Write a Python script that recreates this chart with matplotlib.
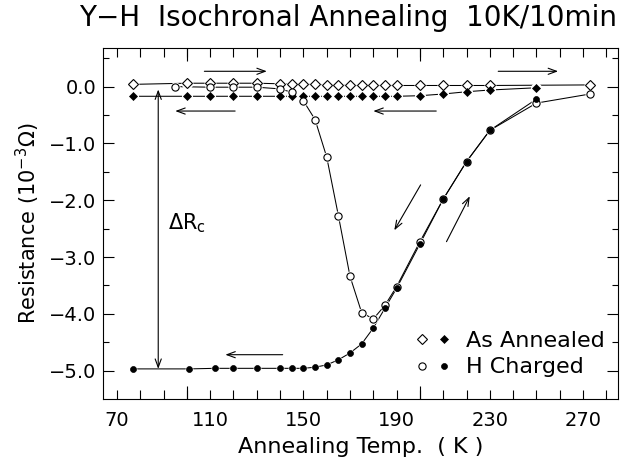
import matplotlib
matplotlib.use("Agg")
import matplotlib.pyplot as plt
from matplotlib.lines import Line2D
from matplotlib.legend_handler import HandlerTuple

plt.rcParams['font.family'] = ['DejaVu Sans']

# ---------------- data ----------------
# As annealed, open diamonds
T_aa_open = [77, 100, 110, 120, 130, 140, 145, 150, 155, 160, 165, 170, 175, 180, 185, 190, 200, 210, 220, 230, 273]
R_aa_open = [0.04, 0.06, 0.06, 0.06, 0.06, 0.05, 0.05, 0.04, 0.04, 0.03, 0.03, 0.02, 0.02, 0.02, 0.02, 0.02, 0.02, 0.02, 0.02, 0.02, 0.03]
# As annealed, filled diamonds
T_aa_fill = [77, 100, 110, 120, 130, 140, 145, 150, 155, 160, 165, 170, 175, 180, 185, 190, 200, 210, 220, 230, 250]
R_aa_fill = [-0.17, -0.17, -0.17, -0.17, -0.17, -0.17, -0.17, -0.17, -0.17, -0.17, -0.17, -0.17, -0.17, -0.17, -0.17, -0.17, -0.16, -0.13, -0.09, -0.06, -0.02]
# H charged, open circles
T_hc_open = [95, 110, 120, 130, 140, 145, 150, 155, 160, 165, 170, 175, 180, 185, 190, 200, 210, 220, 230, 250, 273]
R_hc_open = [0.0, -0.01, -0.01, -0.01, -0.04, -0.10, -0.25, -0.58, -1.24, -2.27, -3.34, -3.98, -4.09, -3.85, -3.52, -2.73, -1.98, -1.32, -0.77, -0.29, -0.13]
# H charged, filled circles
T_hc_fill = [77, 101, 112, 120, 130, 140, 145, 150, 155, 160, 165, 170, 175, 180, 185, 190, 200, 210, 220, 230, 250]
R_hc_fill = [-4.97, -4.97, -4.96, -4.96, -4.96, -4.96, -4.96, -4.96, -4.94, -4.90, -4.81, -4.69, -4.53, -4.25, -3.90, -3.55, -2.77, -1.98, -1.32, -0.77, -0.22]

x_label_ticks = [70, 110, 150, 190, 230, 270]
x_minor_ticks = list(range(70, 290, 10))
x_major_ticks = [100, 200]
y_major_ticks = [0.0, -1.0, -2.0, -3.0, -4.0, -5.0]
y_tick_labels = ['0.0', '\u22121.0', '\u22122.0', '\u22123.0', '\u22124.0', '\u22125.0']
y_minor_ticks = [0.5, -0.5, -1.5, -2.5, -3.5, -4.5]

# arrows: (start T, start R, end T, end R)
arrows = [
    (107.5, 0.27, 134.3, 0.27),
    (120.7, -0.43, 95.0, -0.43),
    (207.0, -0.43, 180.0, -0.43),
    (233.6, 0.27, 259.3, 0.27),
    (141.1, -4.72, 116.5, -4.72),
    (200.3, -1.73, 189.0, -2.53),
    (211.4, -2.73, 221.4, -1.93),
]
dRc_T = 87.7
dRc_top = -0.05
dRc_bot = -4.97

# ---------------- figure ----------------
fig = plt.figure(figsize=(6.26, 4.62), dpi=100)
ax = fig.add_axes([103/626, 1-399/462, (618-103)/626, (399-48)/462])

lw = 0.75
series = [
    (T_aa_open, R_aa_open, dict(marker='D', ms=5.4, mfc='white', mec='black', mew=0.8), 8.5),
    (T_aa_fill, R_aa_fill, dict(marker='D', ms=3.6, mfc='black', mec='black', mew=0.5), 8.0),
    (T_hc_open, R_hc_open, dict(marker='o', ms=5.2, mfc='white', mec='black', mew=0.8), 7.2),
    (T_hc_fill, R_hc_fill, dict(marker='o', ms=4.3, mfc='black', mec='black', mew=0.5), 5.6),
]
for T, R, st, halo in series:
    ax.plot(T, R, '-', color='black', lw=lw, zorder=2)
for T, R, st, halo in series:
    ax.plot(T, R, 'o', ms=halo, mfc='white', mec='white', mew=0, zorder=3)
for T, R, st, halo in series:
    ax.plot(T, R, ls='none', zorder=4, **st)

for x0, y0, x1, y1 in arrows:
    ax.annotate('', xy=(x1, y1), xytext=(x0, y0),
                arrowprops=dict(arrowstyle='->,head_length=0.6,head_width=0.22',
                                color='black', lw=0.8, shrinkA=0, shrinkB=0), zorder=5)
ax.annotate('', xy=(dRc_T, dRc_bot), xytext=(dRc_T, dRc_top),
            arrowprops=dict(arrowstyle='<->,head_length=0.6,head_width=0.22',
                            color='black', lw=0.8, shrinkA=0, shrinkB=0), zorder=5)
ax.text(92.0, -2.4, r'$\Delta$R$_\mathregular{c}$', fontsize=15, ha='left', va='center')

ax.set_xlim(64, 285)
ax.set_ylim(-5.5, 0.68)

ax.set_xticks(x_major_ticks)
ax.set_xticklabels([])
ax.set_xticks(x_minor_ticks, minor=True)
ax.set_xticklabels([str(t) if t in x_label_ticks else '' for t in x_minor_ticks], minor=True)
ax.xaxis.remove_overlapping_locs = False
ax.set_yticks(y_major_ticks)
ax.set_yticklabels(y_tick_labels)
ax.set_yticks(y_minor_ticks, minor=True)

ax.tick_params(axis='x', which='major', direction='in', length=9.5, width=0.8, top=True, bottom=True, labelsize=14, pad=8.5)
ax.tick_params(axis='x', which='minor', direction='in', length=6.5, width=0.8, top=True, bottom=True, labelsize=14, pad=8.5)
ax.tick_params(axis='y', which='major', direction='in', length=8, width=0.8, left=True, right=True, labelsize=14, pad=5)
ax.tick_params(axis='y', which='minor', direction='in', length=4.5, width=0.8, left=True, right=True)
for s in ax.spines.values():
    s.set_linewidth(0.8)

ax.set_xlabel('Annealing Temp.  ( K )', fontsize=16, labelpad=5)
ax.set_ylabel(r'Resistance (10$^{-3}\Omega$)', fontsize=15, labelpad=5)
fig.text(0.556, 0.961, 'Y\u2212H  Isochronal Annealing  10K/10min', fontsize=20, ha='center', va='center')

h1 = Line2D([], [], ls='none', marker='D', ms=5.4, mfc='white', mec='black', mew=0.8)
h2 = Line2D([], [], ls='none', marker='D', ms=3.6, mfc='black', mec='black', mew=0.5)
h3 = Line2D([], [], ls='none', marker='o', ms=5.2, mfc='white', mec='black', mew=0.8)
h4 = Line2D([], [], ls='none', marker='o', ms=4.3, mfc='black', mec='black', mew=0.5)
ax.legend([(h1, h2), (h3, h4)], ['As Annealed', 'H Charged'],
          handler_map={tuple: HandlerTuple(ndivide=None, pad=0.6)},
          loc='center left', bbox_to_anchor=(0.610, 0.128), frameon=False,
          fontsize=16, handlelength=1.4, handletextpad=0.8, labelspacing=0.3,
          borderpad=0, borderaxespad=0, numpoints=1)

fig.savefig('out.png', dpi=100)
